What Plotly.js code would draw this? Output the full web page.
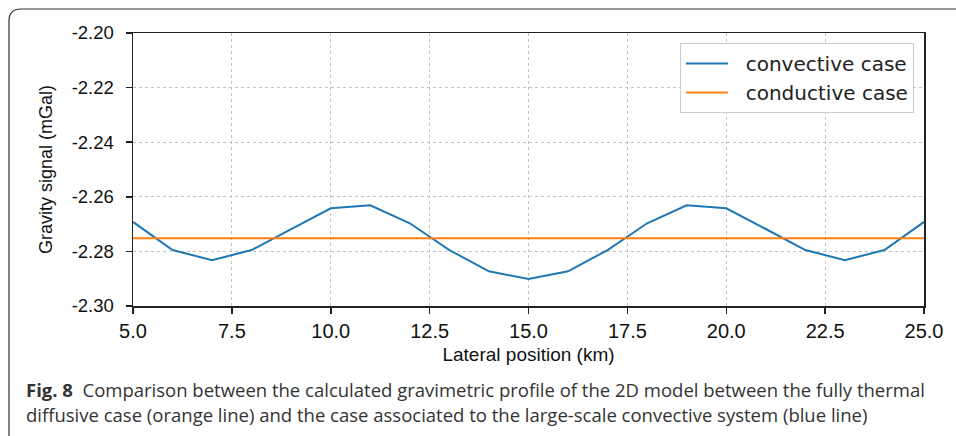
<!DOCTYPE html>
<html>
<head>
<meta charset="utf-8">
<script src="https://cdn.plot.ly/plotly-3.0.1.min.js"></script>
<style>html,body{margin:0;padding:0;background:#fff;}#chart{width:956px;height:436px;}</style>
</head>
<body>
<div id="chart"></div>
<script>
const lateralPosition = [5,6,7,8,9,10,11,12,13,14,15,16,17,18,19,20,21,22,23,24,25];
const convectiveCase = [-2.2692,-2.2795,-2.2832,-2.2795,-2.2718,-2.2642,-2.2631,-2.2697,-2.2795,-2.2873,-2.2901,-2.2873,-2.2795,-2.2697,-2.2631,-2.2642,-2.2718,-2.2795,-2.2832,-2.2795,-2.2692];
const conductiveCase = lateralPosition.map(() => -2.2752);
const seriesNames = ["convective case", "conductive case"];
const xTicks = [5, 7.5, 10, 12.5, 15, 17.5, 20, 22.5, 25];
const xTickText = ["5.0","7.5","10.0","12.5","15.0","17.5","20.0","22.5","25.0"];
const yTicks = [-2.30, -2.28, -2.26, -2.24, -2.22, -2.20];
const yTickText = ["-2.30","-2.28","-2.26","-2.24","-2.22","-2.20"];
const captionLine1 = "<b>Fig. 8</b>  Comparison between the calculated gravimetric profile of the 2D model between the fully thermal";
const captionLine2 = "diffusive case (orange line) and the case associated to the large-scale convective system (blue line)";

const L = 133, R = 924, T = 33, B = 306;
const px = v => (v - L) / (R - L);
const py = v => (B - v) / (B - T);
const pad = '\u00a0\u00a0';

const traces = [
  {x: lateralPosition, y: convectiveCase, type: 'scatter', mode: 'lines', name: pad + seriesNames[0],
   line: {color: '#1f77b4', width: 2}},
  {x: lateralPosition, y: conductiveCase, type: 'scatter', mode: 'lines', name: pad + seriesNames[1],
   line: {color: '#ff7f0e', width: 2}}
];

const frame = `M ${px(9)} ${py(440)} L ${px(9)} ${py(21)} Q ${px(9)} ${py(9)} ${px(21)} ${py(9)} L ${px(970)} ${py(9)}`;

const layout = {
  width: 956, height: 436,
  margin: {l: L, r: 956 - R, t: T, b: 436 - B},
  paper_bgcolor: '#fff', plot_bgcolor: '#fff',
  showlegend: true,
  legend: {x: px(914), y: py(43), xanchor: 'right', yanchor: 'top',
    bgcolor: '#fff', bordercolor: '#cccccc', borderwidth: 1, itemwidth: 42,
    font: {family: 'DejaVu Sans', size: 20, color: '#222'}},
  xaxis: {range: [5, 25], tickvals: xTicks, ticktext: xTickText,
    showgrid: true, gridcolor: '#b4b4b4', griddash: 'dot', gridwidth: 0.8,
    showline: true, linecolor: '#222', linewidth: 1.5, mirror: true,
    ticks: 'outside', ticklen: 6, tickcolor: '#222', tickwidth: 1.5,
    tickfont: {family: 'Liberation Sans', size: 20, color: '#111'}, ticklabelstandoff: 0,
    zeroline: false,
    title: {text: 'Lateral position (km)', font: {family: 'Liberation Sans', size: 19, color: '#111'}, standoff: 7}},
  yaxis: {range: [-2.30, -2.20], tickvals: yTicks, ticktext: yTickText,
    showgrid: true, gridcolor: '#b4b4b4', griddash: 'dot', gridwidth: 0.8,
    showline: true, linecolor: '#222', linewidth: 1.5, mirror: true,
    ticks: 'outside', ticklen: 6, tickcolor: '#222', tickwidth: 1.5,
    tickfont: {family: 'Liberation Sans', size: 18.5, color: '#111'}, ticklabelstandoff: 8,
    zeroline: false,
    title: {text: 'Gravity signal (mGal)', font: {family: 'Liberation Sans', size: 18, color: '#111'}, standoff: 14}},
  shapes: [{type: 'path', xref: 'paper', yref: 'paper', path: frame,
    line: {color: '#333', width: 1.2}, layer: 'above'}],
  annotations: [
    {xref: 'paper', yref: 'paper', x: px(24), y: py(389), xanchor: 'left', yanchor: 'middle',
     text: captionLine1, showarrow: false, align: 'left',
     font: {family: 'Open Sans', size: 18.5, color: '#333'}},
    {xref: 'paper', yref: 'paper', x: px(24), y: py(414), xanchor: 'left', yanchor: 'middle',
     text: captionLine2, showarrow: false, align: 'left',
     font: {family: 'Open Sans', size: 18.5, color: '#333'}}
  ]
};

Plotly.newPlot('chart', traces, layout, {displayModeBar: false, staticPlot: true});
</script>
</body>
</html>
